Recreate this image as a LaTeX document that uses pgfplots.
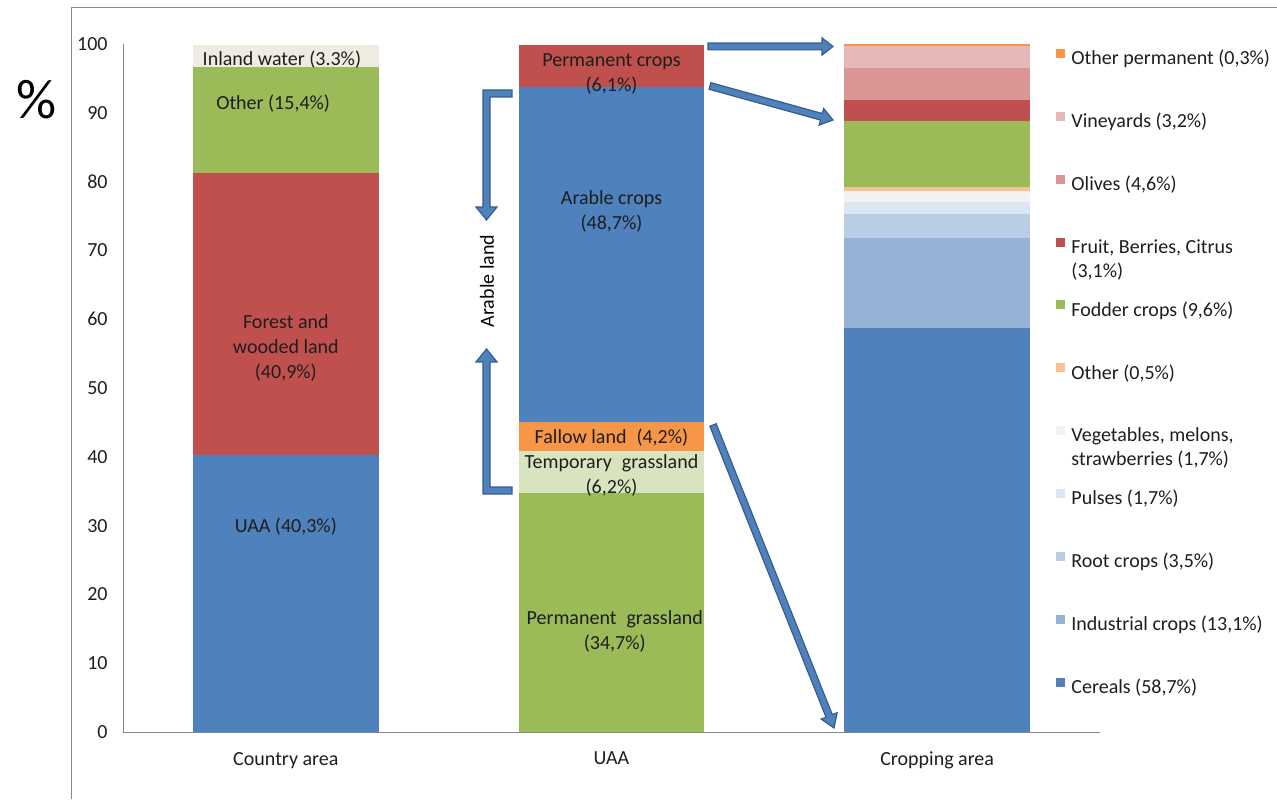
\documentclass[border=0pt]{standalone}
\usepackage{fontspec}
\setmainfont{Carlito}
\usepackage{pgfplots}
\pgfplotsset{compat=1.18}
\usetikzlibrary{calc}

% segment colours
\definecolor{cBlue}{HTML}{4F81BD}
\definecolor{cIndustrial}{HTML}{95B3D7}
\definecolor{cRoot}{HTML}{B9CDE5}
\definecolor{cPulses}{HTML}{DCE6F2}
\definecolor{cVeg}{HTML}{F2F2F2}
\definecolor{cOtherC}{HTML}{FAC090}
\definecolor{cGreen}{HTML}{9BBB59}
\definecolor{cRed}{HTML}{C0504D}
\definecolor{cOlives}{HTML}{D99694}
\definecolor{cVine}{HTML}{E6B9B8}
\definecolor{cOrange}{HTML}{F79646}
\definecolor{cWater}{HTML}{EEECE1}
\definecolor{cTempGrass}{HTML}{D7E4BD}
\definecolor{axisgray}{HTML}{868686}
\definecolor{arrowline}{HTML}{385D8A}
\definecolor{txt}{HTML}{1E1E1E}

\tikzset{lbl/.style={font=\fontsize{10}{12.5}\selectfont, text=txt, align=center, inner sep=0pt}}

\newcommand{\twoline}[2]{\smash{\begin{tabular}[t]{@{}l@{}}#1\\#2\end{tabular}}}

% block arrow between two named points
\newcommand{\blockarrow}[3]{%
  \draw[fill=cBlue, draw=arrowline, line width=0.6pt, line join=miter]
    let \p1=(#1), \p2=(#2),
        \n1={atan2(\y2-\y1,\x2-\x1)},
        \n2={veclen(\x2-\x1,\y2-\y1)} in
    [shift={(\p1)}, rotate=\n1]
    (0pt,-1.7pt) -- ({\n2*1pt-#3},-1.7pt) -- ({\n2*1pt-#3},-4.3pt)
    -- ({\n2*1pt},0pt) -- ({\n2*1pt-#3},4.3pt) -- ({\n2*1pt-#3},1.7pt)
    -- (0pt,1.7pt) -- cycle;}

\begin{document}
\begin{tikzpicture}
\useasboundingbox (0,0) rectangle (638.5pt,399.5pt);

\begin{axis}[
  at={(61.5pt,33.5pt)}, anchor=south west,
  scale only axis, width=488.5pt, height=344pt,
  xmin=-0.5, xmax=2.5, ymin=0, ymax=100,
  ybar stacked, reverse stacked plots=false, bar width=0.571,
  axis x line*=bottom, axis y line*=left,
  axis line style={-, draw=axisgray, line width=0.5pt},
  major tick length=0pt,
  xtick={0,1,2}, xticklabels={Country area,UAA,Cropping area},
  ytick={0,10,...,100},
  /pgf/number format/assume math mode=true,
  ticklabel style={font=\fontsize{10}{12}\selectfont, text=txt},
  yticklabel style={xshift=-4.2pt},
  xticklabel style={yshift=-6.5pt},
  clip=false,
  legend cell align=left,
  legend image code/.code={\fill[#1] (0pt,0.85pt) rectangle (4.5pt,5.35pt);},
  legend style={draw=none, fill=none, at={(0.955,0.9935)}, anchor=north west,
    inner sep=0pt, row sep=21.6pt, column sep=0pt,
    font=\fontsize{10}{12}\selectfont, text=txt,
    nodes={inner sep=0pt, text height=7pt, text depth=2pt},
    /tikz/every odd column/.append style={column sep=3pt}},
]

% Cropping area (x = 2), bottom to top
\addplot[fill=cBlue, draw=none, forget plot] coordinates {(0,0) (1,0) (2,58.7)};
\addplot[fill=cIndustrial, draw=none, forget plot] coordinates {(0,0) (1,0) (2,13.1)};
\addplot[fill=cRoot, draw=none, forget plot] coordinates {(0,0) (1,0) (2,3.5)};
\addplot[fill=cPulses, draw=none, forget plot] coordinates {(0,0) (1,0) (2,1.7)};
\addplot[fill=cVeg, draw=none, forget plot] coordinates {(0,0) (1,0) (2,1.7)};
\addplot[fill=cOtherC, draw=none, forget plot] coordinates {(0,0) (1,0) (2,0.5)};
\addplot[fill=cGreen, draw=none, forget plot] coordinates {(0,0) (1,0) (2,9.6)};
\addplot[fill=cRed, draw=none, forget plot] coordinates {(0,0) (1,0) (2,3.1)};
\addplot[fill=cOlives, draw=none, forget plot] coordinates {(0,0) (1,0) (2,4.6)};
\addplot[fill=cVine, draw=none, forget plot] coordinates {(0,0) (1,0) (2,3.2)};
\addplot[fill=cOrange, draw=none, forget plot] coordinates {(0,0) (1,0) (2,0.3)};

% Country area (x = 0)
\addplot[fill=cBlue, draw=none, forget plot] coordinates {(0,40.3) (1,0) (2,0)};
\addplot[fill=cRed, draw=none, forget plot] coordinates {(0,40.9) (1,0) (2,0)};
\addplot[fill=cGreen, draw=none, forget plot] coordinates {(0,15.4) (1,0) (2,0)};
\addplot[fill=cWater, draw=none, forget plot] coordinates {(0,3.3) (1,0) (2,0)};

% UAA (x = 1)
\addplot[fill=cGreen, draw=none, forget plot] coordinates {(0,0) (1,34.7) (2,0)};
\addplot[fill=cTempGrass, draw=none, forget plot] coordinates {(0,0) (1,6.2) (2,0)};
\addplot[fill=cOrange, draw=none, forget plot] coordinates {(0,0) (1,4.2) (2,0)};
\addplot[fill=cBlue, draw=none, forget plot] coordinates {(0,0) (1,48.7) (2,0)};
\addplot[fill=cRed, draw=none, forget plot] coordinates {(0,0) (1,6.1) (2,0)};

% legend of the cropping area, top to bottom
\addlegendimage{fill=cOrange, draw=none}
\addlegendentry{Other permanent (0,3\%)}
\addlegendimage{fill=cVine, draw=none}
\addlegendentry{Vineyards (3,2\%)}
\addlegendimage{fill=cOlives, draw=none}
\addlegendentry{Olives (4,6\%)}
\addlegendimage{fill=cRed, draw=none}
\addlegendentry{\twoline{Fruit, Berries, Citrus}{(3,1\%)}}
\addlegendimage{fill=cGreen, draw=none}
\addlegendentry{Fodder crops (9,6\%)}
\addlegendimage{fill=cOtherC, draw=none}
\addlegendentry{Other (0,5\%)}
\addlegendimage{fill=cVeg, draw=none}
\addlegendentry{\twoline{Vegetables, melons,}{strawberries (1,7\%)}}
\addlegendimage{fill=cPulses, draw=none}
\addlegendentry{Pulses (1,7\%)}
\addlegendimage{fill=cRoot, draw=none}
\addlegendentry{Root crops (3,5\%)}
\addlegendimage{fill=cIndustrial, draw=none}
\addlegendentry{Industrial crops (13,1\%)}
\addlegendimage{fill=cBlue, draw=none}
\addlegendentry{Cereals (58,7\%)}

% segment labels
\node[lbl] at (axis cs:-0.012,97.72) {Inland water (3.3\%)};
\node[lbl] at (axis cs:-0.039,91.32) {Other (15,4\%)};
\node[lbl] at (axis cs:0,55.85) {Forest and\\wooded land\\(40,9\%)};
\node[lbl] at (axis cs:0,29.84) {UAA (40,3\%)};
\node[lbl] at (axis cs:1,95.68) {Permanent crops\\(6,1\%)};
\node[lbl] at (axis cs:1,75.72) {Arable crops\\(48,7\%)};
\node[lbl] at (axis cs:1,42.73) {Fallow land\enspace(4,2\%)};
\node[lbl] at (axis cs:1,37.28) {Temporary\enspace grassland\\(6,2\%)};
\node[lbl] at (axis cs:1.01,14.65) {Permanent\enspace grassland\\(34,7\%)};
\end{axis}

% annotations, in pixel units of the 1277 x 799 canvas
\begin{scope}[shift={(0pt,399.5pt)}, x=0.5pt, y=-0.5pt]
  \draw[axisgray, line width=0.5pt] (71,799) -- (71,8) -- (1277,8);
  \node[font=\fontsize{28}{30}\selectfont, text=black] at (37,100) {\%};

  \coordinate (a1s) at (708,46.5);  \coordinate (a1e) at (833,46.5);
  \coordinate (a2s) at (710,86);    \coordinate (a2e) at (833,120);
  \coordinate (a3s) at (713,425);   \coordinate (a3e) at (834,728);

  % bracket arrows marking the arable land
  \draw[fill=cBlue, draw=arrowline, line width=0.6pt, line join=miter]
    (512,90) -- (483,90) -- (483,207) -- (476,207) -- (486.5,220)
    -- (497,207) -- (490,207) -- (490,97) -- (512,97) -- cycle;
  \draw[fill=cBlue, draw=arrowline, line width=0.6pt, line join=miter]
    (486.5,349) -- (497,362) -- (490,362) -- (490,487) -- (512,487)
    -- (512,494) -- (483,494) -- (483,362) -- (476,362) -- cycle;
  \node[rotate=90, font=\fontsize{10}{12}\selectfont, text=black] at (487,281) {Arable land};
\end{scope}

\blockarrow{a1s}{a1e}{5.5pt}
\blockarrow{a2s}{a2e}{6pt}
\blockarrow{a3s}{a3e}{6.5pt}
\end{tikzpicture}
\end{document}
